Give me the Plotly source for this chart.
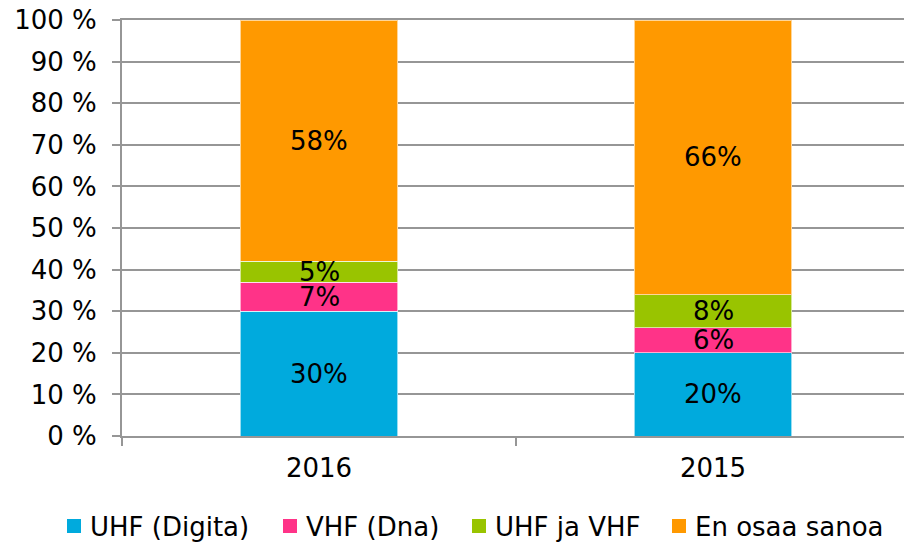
import plotly.graph_objects as go

categories = ["2016", "2015"]
series_names = ["UHF (Digita)", "VHF (Dna)", "UHF ja VHF", "En osaa sanoa"]
uhf_digita = [30, 20]
vhf_dna = [7, 6]
uhf_ja_vhf = [5, 8]
en_osaa = [58, 66]
colors = ["#00AADD", "#FF3388", "#99C400", "#FF9900"]
y_ticks = [0, 10, 20, 30, 40, 50, 60, 70, 80, 90, 100]
y_tick_labels = [f"{v} %" for v in y_ticks]

series = [uhf_digita, vhf_dna, uhf_ja_vhf, en_osaa]
font = "DejaVu Sans"
fs = 26

# figure geometry (page body adds an 8px offset)
W, H = 904, 534
ML, MR, MT, MB = 114, 2, 12, 106
PW, PH = W - ML - MR, H - MT - MB


def px_x(x):
    return (x - ML) / PW


def px_y(y):
    return (H - MB - y) / PH


fig = go.Figure()
for name, vals, col in zip(series_names, series, colors):
    fig.add_trace(go.Bar(
        x=categories, y=vals, name=name,
        marker=dict(color=col, line=dict(color="rgba(255,255,255,0.6)", width=1)),
        hoverinfo="skip", showlegend=False,
    ))

annotations = []
for i, cat in enumerate(categories):
    base = 0
    for vals in series:
        v = vals[i]
        annotations.append(dict(
            x=i, y=base + v / 2, xref="x", yref="y",
            text=f"{v}%", showarrow=False,
            font=dict(family=font, size=fs, color="#000000"),
        ))
        base += v

# manual legend (bottom row)
legend_square_left = [59, 275, 464, 664]
square_size = 14
legend_y_center = 518
shapes = []
for name, col, sx in zip(series_names, colors, legend_square_left):
    shapes.append(dict(
        type="rect", xref="paper", yref="paper",
        x0=px_x(sx), x1=px_x(sx + square_size),
        y0=px_y(legend_y_center + square_size / 2), y1=px_y(legend_y_center - square_size / 2),
        fillcolor=col, line=dict(width=0),
    ))
    annotations.append(dict(
        x=px_x(sx + square_size + 7), y=px_y(legend_y_center + 1), xref="paper", yref="paper",
        xanchor="left", yanchor="middle", text=name, showarrow=False,
        font=dict(family=font, size=fs, color="#000000"),
    ))

fig.update_layout(
    barmode="stack",
    bargap=0.6,
    width=W, height=H,
    margin=dict(l=ML, r=MR, t=MT, b=MB, autoexpand=False),
    paper_bgcolor="white", plot_bgcolor="white",
    font=dict(family=font, size=fs, color="#000000"),
    annotations=annotations,
    shapes=shapes,
    showlegend=False,
    xaxis=dict(
        type="category",
        range=[-0.5, 1.5],
        showline=True, linecolor="#969696", linewidth=2, mirror=True,
        ticks="outside", tickson="boundaries", ticklen=8, tickcolor="#969696", tickwidth=2,
        showgrid=False,
        tickfont=dict(family=font, size=fs),
        ticklabelstandoff=8,
        fixedrange=True,
    ),
    yaxis=dict(
        range=[0, 100],
        tickvals=y_ticks, ticktext=y_tick_labels,
        showline=True, linecolor="#969696", linewidth=2,
        ticks="outside", ticklen=8, tickcolor="#969696", tickwidth=2,
        showgrid=True, gridcolor="#969696", gridwidth=2,
        zeroline=False,
        tickfont=dict(family=font, size=fs),
        ticklabelstandoff=10,
        ticklabeloverflow="allow",
        fixedrange=True,
    ),
)

fig.write_html("out.html")
